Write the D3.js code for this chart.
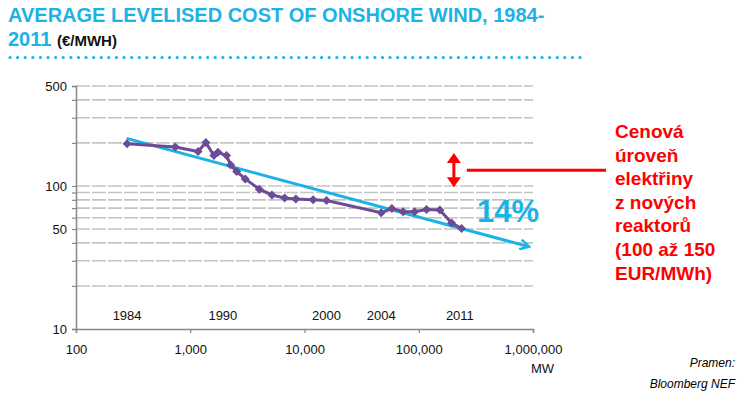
<!DOCTYPE html>
<html>
<head>
<meta charset="utf-8">
<script src="https://cdn.jsdelivr.net/npm/d3@7"></script>
<style>
    body { margin: 0; background: #fff; }
    text { font-family: Arial, "Liberation Sans", sans-serif; }
</style>
</head>
<body>
<script>
// Cumulative installed capacity (MW) and levelised cost (EUR/MWh)
var capacityMW = [280, 740, 1170, 1370, 1610, 1750, 2080, 2260, 2550, 3030, 4020, 5190,
                  6700, 8400, 11900, 15600, 46900, 58200, 73000, 92000, 117000, 153000, 194000, 237000];
var costEUR = [197, 187, 174, 201, 163, 172, 163, 140, 126, 112, 95, 86.5,
               82.5, 81, 80, 79, 65, 69.5, 66, 66, 68.5, 68, 55, 50.5];

// Year labels shown under the curve
var yearLabels = ["1984", "1990", "2000", "2004", "2011"];
var yearMW = [280, 1930, 15600, 46900, 229000];

// Learning-rate trend line
var trendMW = [277, 925000];
var trendCost = [215, 37.6];
var learningRate = "14%";

// Axis ticks
var xTicks = [100, 1000, 10000, 100000, 1000000];
var yGrid = [20, 30, 40, 50, 60, 70, 80, 90, 100, 200, 300, 400, 500];
var yLabels = [10, 50, 100, 500];

// Red annotation (price of new reactors)
var priceArrow = [98, 170];
var priceLine = 129;
var noteLines = ["Cenová", "úroveň", "elektřiny", "z nových", "reaktorů", "(100 až 150", "EUR/MWh)"];

function init() {
    var w = 744;
    var h = 398;

    var cyan = "#1bb3e6";
    var purple = "#6b4c96";

    var svg = d3.select("body")
                .append("svg")
                .attr("width", w)
                .attr("height", h);

    // Title
    var title = svg.append("text")
                   .attr("x", 8)
                   .attr("y", 21.5)
                   .attr("fill", cyan)
                   .style("font-weight", "bold")
                   .style("font-size", "20px")
                   .text("AVERAGE LEVELISED COST OF ONSHORE WIND, 1984-");

    var title2 = svg.append("text")
                    .attr("x", 8)
                    .attr("y", 45.5)
                    .style("font-weight", "bold");
    title2.append("tspan")
          .attr("fill", cyan)
          .style("font-size", "20px")
          .text("2011 ");
    title2.append("tspan")
          .attr("fill", "#111")
          .style("font-size", "15px")
          .text("(€/MWH)");

    // Dotted rule under the title
    svg.append("line")
       .attr("x1", 10)
       .attr("x2", 582)
       .attr("y1", 57.5)
       .attr("y2", 57.5)
       .attr("stroke", cyan)
       .attr("stroke-width", 3.2)
       .attr("stroke-linecap", "round")
       .attr("stroke-dasharray", "0.1,7.5");

    // Scales
    var x = d3.scaleLog()
              .domain([100, 1000000])
              .range([76, 533]);

    var y = d3.scaleLog()
              .domain([10, 500])
              .range([329, 86]);

    // Horizontal dashed gridlines
    svg.selectAll("line.grid")
       .data(yGrid)
       .enter()
       .append("line")
       .attr("class", "grid")
       .attr("x1", x(100))
       .attr("x2", x(1000000))
       .attr("y1", d => y(d))
       .attr("y2", d => y(d))
       .attr("stroke", "#c4c4c4")
       .attr("stroke-width", 1.6)
       .attr("stroke-dasharray", "14,2");

    // Y axis
    var yAxis = d3.axisLeft(y)
                  .tickValues([10].concat(yGrid))
                  .tickSize(4)
                  .tickFormat(d => yLabels.indexOf(d) >= 0 ? d : "");
    var gy = svg.append("g")
                .attr("transform", "translate(" + x(100) + ",0)")
                .call(yAxis);
    gy.select(".domain").attr("stroke", "#888").attr("stroke-width", 1.5);
    gy.selectAll(".tick line").attr("stroke", "#888").attr("stroke-width", 1.2);
    gy.selectAll(".tick text")
      .attr("x", -9)
      .attr("fill", "#111")
      .style("font-size", "13px")
      .style("font-family", "Arial, 'Liberation Sans', sans-serif");

    // X axis
    var xAxis = d3.axisBottom(x)
                  .tickValues(xTicks)
                  .tickSize(4)
                  .tickFormat(d3.format(","));
    var gx = svg.append("g")
                .attr("transform", "translate(0," + y(10) + ")")
                .call(xAxis);
    gx.select(".domain").attr("stroke", "#888").attr("stroke-width", 1.5);
    gx.selectAll(".tick line").attr("stroke", "#888").attr("stroke-width", 1.2);
    gx.selectAll(".tick text")
      .attr("y", 16)
      .attr("fill", "#111")
      .style("font-size", "13px")
      .style("font-family", "Arial, 'Liberation Sans', sans-serif");

    svg.append("text")
       .attr("x", x(1000000) - 2)
       .attr("y", 373)
       .attr("fill", "#111")
       .style("font-size", "13px")
       .text("MW");

    // Trend line with open arrow head
    var trend = trendMW.map((d, i) => [x(d), y(trendCost[i])]);
    svg.append("defs")
       .append("marker")
       .attr("id", "arrow")
       .attr("viewBox", "0 0 12 12")
       .attr("refX", 10)
       .attr("refY", 6)
       .attr("markerWidth", 12)
       .attr("markerHeight", 12)
       .attr("markerUnits", "userSpaceOnUse")
       .attr("orient", "auto")
       .append("path")
       .attr("d", "M1,1 L10,6 L1,11")
       .attr("fill", "none")
       .attr("stroke", cyan)
       .attr("stroke-width", 2.4);

    svg.append("path")
       .datum(trend)
       .attr("d", d3.line())
       .attr("fill", "none")
       .attr("stroke", cyan)
       .attr("stroke-width", 3)
       .attr("marker-end", "url(#arrow)");

    // Cost curve
    var line = d3.line()
                 .x((d, i) => x(capacityMW[i]))
                 .y(d => y(d));

    svg.append("path")
       .datum(costEUR)
       .attr("d", line)
       .attr("fill", "none")
       .attr("stroke", purple)
       .attr("stroke-width", 3);

    svg.selectAll("path.pt")
       .data(costEUR)
       .enter()
       .append("path")
       .attr("class", "pt")
       .attr("d", "M0,-4.5 L4.5,0 L0,4.5 L-4.5,0 Z")
       .attr("transform", (d, i) => "translate(" + x(capacityMW[i]) + "," + y(d) + ")")
       .attr("fill", purple);

    // Year labels
    svg.selectAll("text.year")
       .data(yearLabels)
       .enter()
       .append("text")
       .attr("class", "year")
       .attr("x", (d, i) => x(yearMW[i]))
       .attr("y", 320)
       .attr("text-anchor", "middle")
       .attr("fill", "#111")
       .style("font-size", "13px")
       .text(d => d);

    // Learning rate
    svg.append("text")
       .attr("x", 477)
       .attr("y", 222)
       .attr("fill", cyan)
       .style("font-weight", "bold")
       .style("font-size", "31px")
       .text(learningRate);

    // Red double arrow and connector
    var ax = x(203000);
    var yTop = y(priceArrow[1]);
    var yBot = y(priceArrow[0]);
    svg.append("line")
       .attr("x1", ax).attr("x2", ax)
       .attr("y1", yTop + 8).attr("y2", yBot - 8)
       .attr("stroke", "red")
       .attr("stroke-width", 3);
    svg.append("path")
       .attr("d", "M" + ax + "," + yTop + " l-7,10 l14,0 Z" +
                  "M" + ax + "," + yBot + " l-7,-10 l14,0 Z")
       .attr("fill", "red");

    svg.append("line")
       .attr("x1", ax + 13)
       .attr("x2", 606)
       .attr("y1", y(priceLine))
       .attr("y2", y(priceLine))
       .attr("stroke", "red")
       .attr("stroke-width", 3);

    svg.selectAll("text.note")
       .data(noteLines)
       .enter()
       .append("text")
       .attr("class", "note")
       .attr("x", 615)
       .attr("y", (d, i) => 138 + i * 23.6)
       .attr("fill", "red")
       .style("font-weight", "bold")
       .style("font-size", "19px")
       .text(d => d);

    // Source
    svg.append("text")
       .attr("x", 735)
       .attr("y", 367)
       .attr("text-anchor", "end")
       .style("font-style", "italic")
       .style("font-size", "12px")
       .text("Pramen:");
    svg.append("text")
       .attr("x", 735)
       .attr("y", 388)
       .attr("text-anchor", "end")
       .style("font-style", "italic")
       .style("font-size", "12px")
       .text("Bloomberg NEF");
}

window.onload = init;
</script>
</body>
</html>
